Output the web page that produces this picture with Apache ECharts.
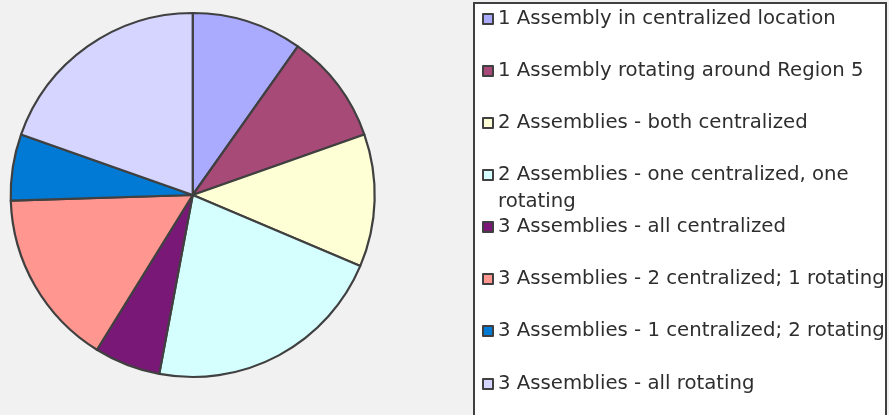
<!DOCTYPE html>
<html>
<head>
<meta charset="utf-8">
<script src="https://cdn.jsdelivr.net/npm/echarts@6/dist/echarts.min.js"></script>
<style>
html,body{margin:0;padding:0;background:#f1f1f1;}
#chart{width:889px;height:415px;}
</style>
</head>
<body>
<div id="chart"></div>
<script>
const categories = [
  "1 Assembly in centralized location",
  "1 Assembly rotating around Region 5",
  "2 Assemblies - both centralized",
  "2 Assemblies - one centralized, one rotating",
  "3 Assemblies - all centralized",
  "3 Assemblies - 2 centralized; 1 rotating",
  "3 Assemblies - 1 centralized; 2 rotating",
  "3 Assemblies - all rotating"
];
const values = [5, 5, 6, 11, 3, 8, 3, 10];
const colors = ["#aaaaff", "#a84a78", "#ffffd5", "#d5ffff", "#7a1878", "#ff968f", "#007ad4", "#d5d5ff"];
const legendLabels = [
  "1 Assembly in centralized location",
  "1 Assembly rotating around Region 5",
  "2 Assemblies - both centralized",
  "2 Assemblies - one centralized, one\nrotating",
  "3 Assemblies - all centralized",
  "3 Assemblies - 2 centralized; 1 rotating",
  "3 Assemblies - 1 centralized; 2 rotating",
  "3 Assemblies - all rotating"
];

const legendCenters = [19, 71, 123, 175, 227, 279, 331, 384];

const chart = echarts.init(document.getElementById('chart'), null, {renderer: 'canvas'});

const legends = categories.map((name, i) => {
  const multi = legendLabels[i].indexOf('\n') >= 0;
  const lh = multi ? 27 : 20;
  return {
    data: [name],
    orient: 'vertical',
    left: 482,
    top: multi ? legendCenters[i] - 40.5 : legendCenters[i] - 10,
    padding: 0,
    itemWidth: 10,
    itemHeight: 10,
    icon: 'rect',
    selectedMode: false,
    formatter: () => (multi ? ' \n' : '') + legendLabels[i],
    textStyle: {
      fontFamily: 'DejaVu Sans',
      fontSize: 19.7,
      color: '#2e2e2e',
      lineHeight: lh
    }
  };
});

chart.setOption({
  animation: false,
  backgroundColor: '#f1f1f1',
  graphic: [{
    type: 'rect',
    z: -10,
    shape: {x: 474, y: 3, width: 412, height: 430},
    style: {fill: '#ffffff', stroke: '#404040', lineWidth: 2}
  }],
  legend: legends,
  series: [{
    type: 'pie',
    center: [192.7, 195],
    radius: 182,
    startAngle: 90,
    clockwise: true,
    label: {show: false},
    labelLine: {show: false},
    emphasis: {disabled: true},
    itemStyle: {borderColor: '#404040', borderWidth: 2.2},
    data: categories.map((name, i) => ({
      name: name,
      value: values[i],
      itemStyle: {color: colors[i]}
    }))
  }]
});
</script>
</body>
</html>
